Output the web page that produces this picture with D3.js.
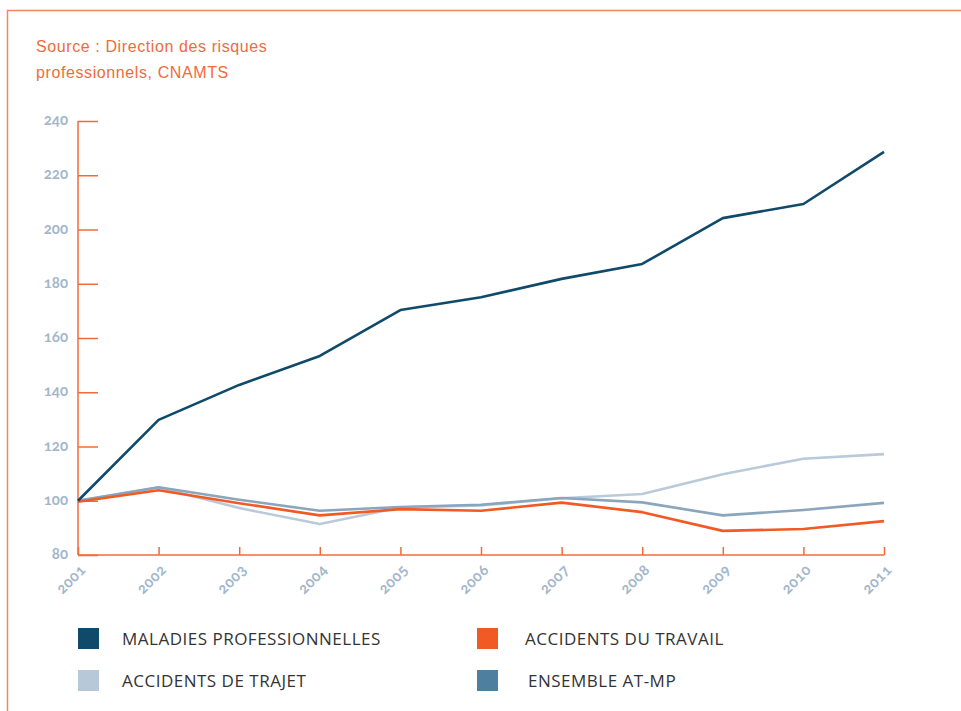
<!DOCTYPE html>
<html>
<head>
<meta charset="utf-8">
<script src="https://cdn.jsdelivr.net/npm/d3@7"></script>
<style>
  body { margin: 0; background: #fff; }
  svg { display: block; }
</style>
</head>
<body>
<script>
const years = [2001, 2002, 2003, 2004, 2005, 2006, 2007, 2008, 2009, 2010, 2011];
const yTicks = [80, 100, 120, 140, 160, 180, 200, 220, 240];

const maladies = [100, 129.8, 142.7, 153.4, 170.3, 175.0, 181.8, 187.3, 204.2, 209.4, 228.6];
const travail  = [99.6, 103.9, 99.1, 94.6, 96.9, 96.3, 99.3, 95.8, 88.9, 89.6, 92.5];
const trajet   = [100, 104.9, 97.3, 91.4, 97.5, 98.3, 100.9, 102.5, 109.8, 115.5, 117.2];
const ensemble = [100, 105.0, 100.4, 96.3, 97.7, 98.5, 101.0, 99.4, 94.6, 96.6, 99.2];

const series = [
  { name: "ACCIDENTS DE TRAJET", values: trajet, color: "#b9cada", key: "#b7c8d8" },
  { name: "ENSEMBLE AT-MP", values: ensemble, color: "#8aa5bc", key: "#4f7f9e" },
  { name: "ACCIDENTS DU TRAVAIL", values: travail, color: "#f15a24", key: "#f15a24" },
  { name: "MALADIES PROFESSIONNELLES", values: maladies, color: "#0f4a6a", key: "#0f4a6a" }
];

const W = 961, H = 711;
const axisColor = "#f26a3b";
const labelColor = "#a2b7cb";

const svg = d3.select("body").append("svg")
  .attr("width", W)
  .attr("height", H);

// frame
svg.append("path")
  .attr("d", "M7.5," + H + " L7.5,10.5 L" + W + ",10.5")
  .attr("fill", "none")
  .attr("stroke", "#f58659")
  .attr("stroke-width", 1.5);

// source
const src = svg.append("g")
  .attr("font-family", "Liberation Sans, Arial, sans-serif")
  .attr("font-size", 16)
  .attr("letter-spacing", 0.6)
  .attr("fill", axisColor);
src.append("text").attr("x", 36).attr("y", 52).text("Source : Direction des risques");
src.append("text").attr("x", 36).attr("y", 78).text("professionnels, CNAMTS");

const x = d3.scaleLinear().domain([2001, 2011]).range([78, 884]);
const y = d3.scaleLinear().domain([80, 240]).range([555, 121]);

// y axis
const yAxis = svg.append("g")
  .attr("transform", "translate(78,0)")
  .call(d3.axisRight(y).tickValues(yTicks).tickSize(20).tickFormat(""));
yAxis.select(".domain").remove();
yAxis.selectAll("line").attr("stroke", axisColor).attr("stroke-width", 1.5);
svg.append("line")
  .attr("x1", 78).attr("x2", 78)
  .attr("y1", y(240)).attr("y2", y(80))
  .attr("stroke", axisColor).attr("stroke-width", 1.5);

svg.append("g").selectAll("text")
  .data(yTicks)
  .join("text")
  .attr("x", 68)
  .attr("y", d => y(d) + 4)
  .attr("text-anchor", "end")
  .attr("font-family", "Lato, sans-serif")
  .attr("font-weight", "bold")
  .attr("font-size", 15)
  .style("font-variant-numeric", "oldstyle-nums")
  .attr("fill", labelColor)
  .text(d => d);

// x axis
const xAxis = svg.append("g")
  .attr("transform", "translate(0,555)")
  .call(d3.axisTop(x).tickValues(years).tickSize(8).tickFormat(""));
xAxis.select(".domain").remove();
xAxis.selectAll("line").attr("stroke", axisColor).attr("stroke-width", 1.5);
svg.append("line")
  .attr("x1", x(2001)).attr("x2", x(2011))
  .attr("y1", 555).attr("y2", 555)
  .attr("stroke", axisColor).attr("stroke-width", 1.5);

svg.append("g").selectAll("text")
  .data(years)
  .join("text")
  .attr("transform", d => "translate(" + (x(d) + 5) + ",567) rotate(-45)")
  .attr("text-anchor", "end")
  .attr("dy", "0.35em")
  .attr("font-family", "Lato, sans-serif")
  .attr("font-weight", "bold")
  .attr("font-size", 15)
  .attr("letter-spacing", 0.5)
  .style("font-variant-numeric", "oldstyle-nums")
  .attr("fill", labelColor)
  .text(d => d);

// lines
const line = d3.line()
  .x((d, i) => x(years[i]))
  .y(d => y(d));

svg.append("g").selectAll("path")
  .data(series)
  .join("path")
  .attr("d", d => line(d.values))
  .attr("fill", "none")
  .attr("stroke", d => d.color)
  .attr("stroke-width", 2.6)
  .attr("stroke-linejoin", "round");

// legend
const legendItems = [
  { s: series[3], x: 78, y: 628, tx: 122 },
  { s: series[2], x: 477, y: 628, tx: 525 },
  { s: series[0], x: 78, y: 670, tx: 122 },
  { s: series[1], x: 477, y: 670, tx: 528 }
];
const lg = svg.append("g").selectAll("g")
  .data(legendItems)
  .join("g");
lg.append("rect")
  .attr("x", d => d.x).attr("y", d => d.y)
  .attr("width", 21).attr("height", 21)
  .attr("fill", d => d.s.key);
lg.append("text")
  .attr("x", d => d.tx).attr("y", d => d.y + 17)
  .attr("font-family", "Open Sans, sans-serif")
  .attr("font-size", 17)
  .attr("letter-spacing", 0.5)
  .attr("fill", "#333")
  .text(d => d.s.name);
</script>
</body>
</html>
